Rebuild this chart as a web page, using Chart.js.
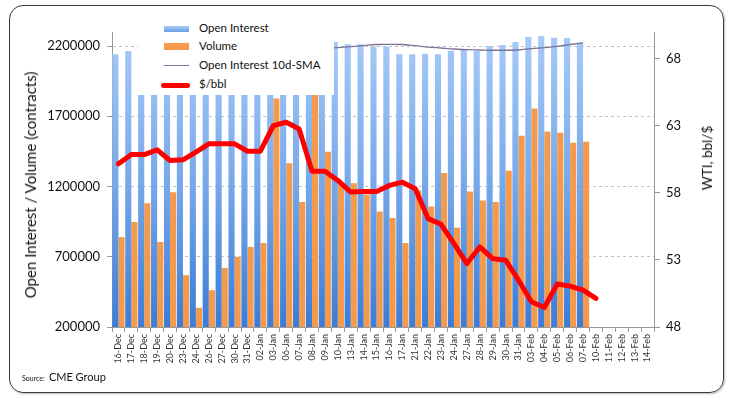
<!DOCTYPE html>
<html>
<head>
<meta charset="utf-8">
<script src="https://cdn.jsdelivr.net/npm/chart.js@4.4.1/dist/chart.umd.min.js"></script>
<style>
html,body{margin:0;padding:0;background:#fff;}
#wrap{position:relative;width:733px;height:403px;overflow:hidden;font-family:Lato,"Open Sans",sans-serif;color:#111;}
#frame{position:absolute;left:9px;top:5px;width:713px;height:386px;border:1.5px solid #3a3a3a;border-radius:14px;box-shadow:1px 1px 2px rgba(0,0,0,0.25);}
#c{position:absolute;left:0;top:0;}
#legend{position:absolute;left:138px;top:14px;width:196px;height:81px;background:#fff;}
.sw{position:absolute;}
.lt{position:absolute;left:199px;font-size:11.5px;line-height:14px;white-space:nowrap;color:#111;}
.ytitle{position:absolute;white-space:nowrap;transform:translate(-50%,-50%) rotate(-90deg);color:#111;}
#src{position:absolute;left:22px;top:365px;white-space:nowrap;color:#111;}
</style>
</head>
<body>
<div id="wrap">
  <div id="frame"></div>
  <canvas id="c" width="733" height="403"></canvas>
  <div id="legend"></div>
  <div class="sw" style="left:164px;top:26px;width:25px;height:6px;background:linear-gradient(#a8cbf8,#6a9fe6);"></div>
  <div class="sw" style="left:164px;top:43px;width:25px;height:7px;background:#f5994a;"></div>
  <div class="sw" style="left:164px;top:65px;width:25px;height:1.3px;background:#7d7399;"></div>
  <div class="sw" style="left:161px;top:82.5px;width:29px;height:5px;border-radius:3px;background:#ff0000;"></div>
  <div class="lt" style="top:21px;">Open Interest</div>
  <div class="lt" style="top:39px;">Volume</div>
  <div class="lt" style="top:58px;">Open Interest 10d-SMA</div>
  <div class="lt" style="top:77px;">$/bbl</div>
  <div class="ytitle" style="left:30px;top:185px;font-size:15px;">Open Interest / Volume (contracts)</div>
  <div class="ytitle" style="left:707px;top:158px;font-size:13.5px;">WTI, bbl/$</div>
  <div id="src"><span style="font-size:7px;">Source:</span> <span style="font-size:11px;">CME Group</span></div>
</div>
<script>
const categories = ["16-Dec","17-Dec","18-Dec","19-Dec","20-Dec","23-Dec","24-Dec","26-Dec","27-Dec","30-Dec","31-Dec","02-Jan","03-Jan","06-Jan","07-Jan","08-Jan","09-Jan","10-Jan","13-Jan","14-Jan","15-Jan","16-Jan","17-Jan","21-Jan","22-Jan","23-Jan","24-Jan","27-Jan","28-Jan","29-Jan","30-Jan","31-Jan","03-Feb","04-Feb","05-Feb","06-Feb","07-Feb","10-Feb","11-Feb","12-Feb","13-Feb","14-Feb"];

const openInterest = [2141000,2164000,2190000,2200000,2185000,2180000,2175000,2180000,2190000,2195000,2185000,2190000,2200000,2195000,2185000,2190000,2200000,2228000,2212000,2212000,2195000,2195000,2141000,2141000,2146000,2141000,2167000,2179000,2164000,2200000,2207000,2228000,2264000,2271000,2259000,2257000,2223000];

const volume = [840000,947000,1081000,805000,1160000,569000,337000,462000,621000,699000,770000,798000,1826000,1365000,1089000,1900000,1448000,1214000,1224000,1143000,1023000,976000,798000,1172000,1058000,1297000,907000,1165000,1101000,1089000,1313000,1562000,1755000,1592000,1583000,1512000,1519000];

const oiSMA = [null,null,null,null,null,null,null,null,null,2180000,2182000,2184000,2185000,2186000,2187000,2187000,2187000,2189000,2196000,2203000,2211000,2212000,2211000,2203000,2193000,2186000,2179000,2174000,2172000,2170000,2170000,2172000,2182000,2189000,2198000,2211000,2223000];

const priceWTI = [60.17,60.86,60.86,61.21,60.42,60.47,61.04,61.66,61.66,61.66,61.11,61.11,63.02,63.27,62.77,59.62,59.62,58.93,58.06,58.11,58.11,58.56,58.80,58.31,56.08,55.66,54.22,52.73,53.97,53.10,52.98,51.49,49.88,49.46,51.20,51.05,50.75,50.13];

const leftTicks = [200000,700000,1200000,1700000,2200000];
const rightTicks = [48,53,58,63,68];

function oiGradient(ctx){
  const ch = ctx.chart;
  const a = ch.chartArea;
  if(!a) return '#6fa3e8';
  const g = ch.ctx.createLinearGradient(0,a.top,0,a.bottom);
  g.addColorStop(0,'#a8cbf8');
  g.addColorStop(0.5,'#78a9ea');
  g.addColorStop(1,'#3b7cd6');
  return g;
}

new Chart(document.getElementById('c'), {
  type:'bar',
  data:{
    labels: categories,
    datasets:[
      {type:'line', label:'$/bbl', data:priceWTI, yAxisID:'y1', borderColor:'#ff0000', borderWidth:5, pointRadius:0, tension:0, borderJoinStyle:'round', borderCapStyle:'round', order:0},
      {type:'line', label:'Open Interest 10d-SMA', data:oiSMA, yAxisID:'y', borderColor:'#7d7399', borderWidth:1.3, pointRadius:0, tension:0.4, cubicInterpolationMode:'monotone', order:1},
      {type:'bar', label:'Open Interest', data:openInterest, yAxisID:'y', backgroundColor:oiGradient, categoryPercentage:0.95, barPercentage:1, order:2},
      {type:'bar', label:'Volume', data:volume, yAxisID:'y', backgroundColor:'#f5994a', categoryPercentage:0.95, barPercentage:1, order:3}
    ]
  },
  options:{
    responsive:false,
    animation:false,
    devicePixelRatio:1,
    layout:{padding:{left:0,right:0,top:32,bottom:0}},
    plugins:{legend:{display:false}, tooltip:{enabled:false}},
    scales:{
      x:{
        offset:true,
        grid:{display:true, drawOnChartArea:false, drawTicks:true, tickLength:5, offset:true, color:'#999'},
        border:{color:'#999'},
        ticks:{autoSkip:false, maxRotation:90, minRotation:90, padding:2, color:'#333', font:{family:'Lato', size:9}},
        afterFit(s){ s.height = 76; }
      },
      y:{
        position:'left', min:200000, max:2300000,
        afterBuildTicks(s){ s.ticks = leftTicks.map(v=>({value:v})); },
        grid:{color:'#c2c2c2', tickColor:'#999', tickLength:5, tickBorderDash:[]},
        border:{display:true, color:'#999', dash:[3,3]},
        ticks:{padding:7, color:'#111', font:{family:'Lato', size:13}, callback:(v)=>String(v)},
        afterFit(s){ s.width = 112; }
      },
      y1:{
        position:'right', min:48, max:70,
        afterBuildTicks(s){ s.ticks = rightTicks.map(v=>({value:v})); },
        grid:{drawOnChartArea:false, tickLength:6, color:'#999'},
        border:{color:'#999'},
        ticks:{padding:6, color:'#111', font:{family:'Lato', size:13}, callback:(v)=>String(v)},
        afterFit(s){ s.width = 79; }
      }
    }
  }
});
</script>
</body>
</html>
